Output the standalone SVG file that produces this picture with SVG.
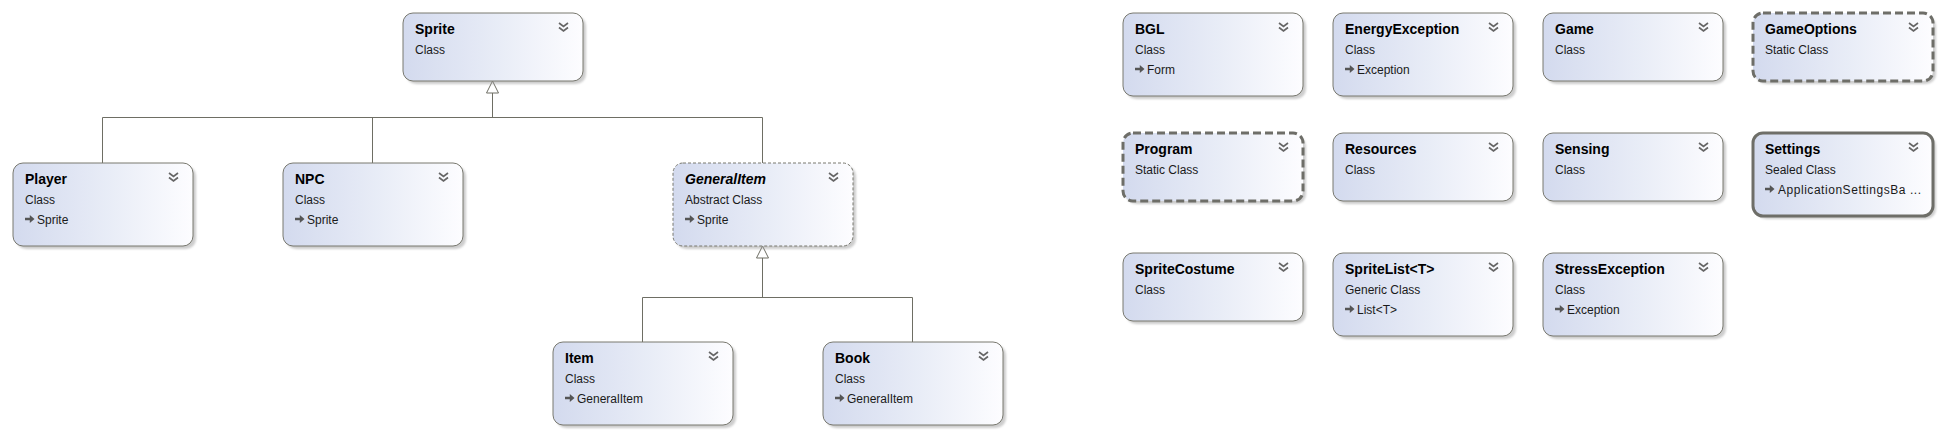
<svg xmlns="http://www.w3.org/2000/svg" xmlns:xlink="http://www.w3.org/1999/xlink" width="1944" height="436" viewBox="0 0 1944 436">
<defs>
<linearGradient id="bg" x1="0" y1="0" x2="1" y2="0">
<stop offset="0" stop-color="#d3daee"/>
<stop offset="0.55" stop-color="#e9edf7"/>
<stop offset="1" stop-color="#fdfdff"/>
</linearGradient>
<filter id="sh" x="-10%" y="-10%" width="120%" height="130%">
<feGaussianBlur stdDeviation="1.2"/>
</filter>
<g id="chev">
<path d="M0,0 L4.5,3.5 L9,0 M0,4.5 L4.5,8 L9,4.5" fill="none" stroke="#666" stroke-width="1.7"/>
</g>
<path id="arr" d="M0,-1.3 H4.8 V-4 L9.5,0 L4.8,4 V1.3 H0 Z" fill="#555"/>
</defs>
<style>
.box{fill:url(#bg);stroke:#78786f;stroke-width:1}
.abs{stroke-dasharray:3 2}
.stat{stroke:#6e6e68;stroke-width:3;stroke-dasharray:8 4}
.seal{stroke:#6e6e68;stroke-width:3}
.shd{fill:#9a9a9a;opacity:0.5;filter:url(#sh)}
.t{font-family:"Liberation Sans",Arial,sans-serif;font-size:14px;font-weight:bold;fill:#000}
.ti{font-style:italic}
.s{font-family:"Liberation Sans",Arial,sans-serif;font-size:12px;fill:#1a1a1a}
.c{fill:none;stroke:#6e6e64;stroke-width:1}
.tri{fill:#fff;stroke:#6e6e64;stroke-width:1}
</style>
<rect width="1944" height="436" fill="#fff"/>

<g id="connectors">
<polygon class="tri" points="492.5,81 486.5,93 498.5,93"/>
<path class="c" d="M492.5,93 V117.5 M102.5,117.5 H762.5 M102.5,117.5 V163 M372.5,117.5 V163 M762.5,117.5 V163"/>
<polygon class="tri" points="762.5,246 756.5,258 768.5,258"/>
<path class="c" d="M762.5,258 V297.5 M642.5,297.5 H912.5 M642.5,297.5 V342 M912.5,297.5 V342"/>
</g>

<g id="Sprite">
<rect class="shd" x="406" y="16" width="180" height="68" rx="10"/>
<rect class="box" x="403" y="13" width="180" height="68" rx="10"/>
<text class="t" x="415" y="34">Sprite</text>
<text class="s" x="415" y="54">Class</text>
<use xlink:href="#chev" x="559" y="23"/>
</g>

<g id="Player">
<rect class="shd" x="16" y="166" width="180" height="83" rx="10"/>
<rect class="box" x="13" y="163" width="180" height="83" rx="10"/>
<text class="t" x="25" y="184">Player</text>
<text class="s" x="25" y="204">Class</text>
<use xlink:href="#arr" x="25" y="219"/>
<text class="s" x="37" y="224">Sprite</text>
<use xlink:href="#chev" x="169" y="173"/>
</g>

<g id="NPC">
<rect class="shd" x="286" y="166" width="180" height="83" rx="10"/>
<rect class="box" x="283" y="163" width="180" height="83" rx="10"/>
<text class="t" x="295" y="184">NPC</text>
<text class="s" x="295" y="204">Class</text>
<use xlink:href="#arr" x="295" y="219"/>
<text class="s" x="307" y="224">Sprite</text>
<use xlink:href="#chev" x="439" y="173"/>
</g>

<g id="GeneralItem">
<rect class="shd" x="676" y="166" width="180" height="83" rx="10"/>
<rect class="box abs" x="673" y="163" width="180" height="83" rx="10"/>
<text class="t ti" x="685" y="184">GeneralItem</text>
<text class="s" x="685" y="204">Abstract Class</text>
<use xlink:href="#arr" x="685" y="219"/>
<text class="s" x="697" y="224">Sprite</text>
<use xlink:href="#chev" x="829" y="173"/>
</g>

<g id="Item">
<rect class="shd" x="556" y="345" width="180" height="83" rx="10"/>
<rect class="box" x="553" y="342" width="180" height="83" rx="10"/>
<text class="t" x="565" y="363">Item</text>
<text class="s" x="565" y="383">Class</text>
<use xlink:href="#arr" x="565" y="398"/>
<text class="s" x="577" y="403">GeneralItem</text>
<use xlink:href="#chev" x="709" y="352"/>
</g>

<g id="Book">
<rect class="shd" x="826" y="345" width="180" height="83" rx="10"/>
<rect class="box" x="823" y="342" width="180" height="83" rx="10"/>
<text class="t" x="835" y="363">Book</text>
<text class="s" x="835" y="383">Class</text>
<use xlink:href="#arr" x="835" y="398"/>
<text class="s" x="847" y="403">GeneralItem</text>
<use xlink:href="#chev" x="979" y="352"/>
</g>

<g id="BGL">
<rect class="shd" x="1126" y="16" width="180" height="83" rx="10"/>
<rect class="box" x="1123" y="13" width="180" height="83" rx="10"/>
<text class="t" x="1135" y="34">BGL</text>
<text class="s" x="1135" y="54">Class</text>
<use xlink:href="#arr" x="1135" y="69"/>
<text class="s" x="1147" y="74">Form</text>
<use xlink:href="#chev" x="1279" y="23"/>
</g>

<g id="EnergyException">
<rect class="shd" x="1336" y="16" width="180" height="83" rx="10"/>
<rect class="box" x="1333" y="13" width="180" height="83" rx="10"/>
<text class="t" x="1345" y="34">EnergyException</text>
<text class="s" x="1345" y="54">Class</text>
<use xlink:href="#arr" x="1345" y="69"/>
<text class="s" x="1357" y="74">Exception</text>
<use xlink:href="#chev" x="1489" y="23"/>
</g>

<g id="Game">
<rect class="shd" x="1546" y="16" width="180" height="68" rx="10"/>
<rect class="box" x="1543" y="13" width="180" height="68" rx="10"/>
<text class="t" x="1555" y="34">Game</text>
<text class="s" x="1555" y="54">Class</text>
<use xlink:href="#chev" x="1699" y="23"/>
</g>

<g id="GameOptions">
<rect class="shd" x="1756" y="16" width="180" height="68" rx="10"/>
<rect class="box stat" x="1753" y="13" width="180" height="68" rx="10"/>
<text class="t" x="1765" y="34">GameOptions</text>
<text class="s" x="1765" y="54">Static Class</text>
<use xlink:href="#chev" x="1909" y="23"/>
</g>

<g id="Program">
<rect class="shd" x="1126" y="136" width="180" height="68" rx="10"/>
<rect class="box stat" x="1123" y="133" width="180" height="68" rx="10"/>
<text class="t" x="1135" y="154">Program</text>
<text class="s" x="1135" y="174">Static Class</text>
<use xlink:href="#chev" x="1279" y="143"/>
</g>

<g id="Resources">
<rect class="shd" x="1336" y="136" width="180" height="68" rx="10"/>
<rect class="box" x="1333" y="133" width="180" height="68" rx="10"/>
<text class="t" x="1345" y="154">Resources</text>
<text class="s" x="1345" y="174">Class</text>
<use xlink:href="#chev" x="1489" y="143"/>
</g>

<g id="Sensing">
<rect class="shd" x="1546" y="136" width="180" height="68" rx="10"/>
<rect class="box" x="1543" y="133" width="180" height="68" rx="10"/>
<text class="t" x="1555" y="154">Sensing</text>
<text class="s" x="1555" y="174">Class</text>
<use xlink:href="#chev" x="1699" y="143"/>
</g>

<g id="Settings">
<rect class="shd" x="1756" y="136" width="180" height="83" rx="10"/>
<rect class="box seal" x="1753" y="133" width="180" height="83" rx="10"/>
<text class="t" x="1765" y="154">Settings</text>
<text class="s" x="1765" y="174">Sealed Class</text>
<use xlink:href="#arr" x="1765" y="189"/>
<text class="s" x="1778" y="194" textLength="143" lengthAdjust="spacing">ApplicationSettingsBa ...</text>
<use xlink:href="#chev" x="1909" y="143"/>
</g>

<g id="SpriteCostume">
<rect class="shd" x="1126" y="256" width="180" height="68" rx="10"/>
<rect class="box" x="1123" y="253" width="180" height="68" rx="10"/>
<text class="t" x="1135" y="274">SpriteCostume</text>
<text class="s" x="1135" y="294">Class</text>
<use xlink:href="#chev" x="1279" y="263"/>
</g>

<g id="SpriteList">
<rect class="shd" x="1336" y="256" width="180" height="83" rx="10"/>
<rect class="box" x="1333" y="253" width="180" height="83" rx="10"/>
<text class="t" x="1345" y="274">SpriteList&lt;T&gt;</text>
<text class="s" x="1345" y="294">Generic Class</text>
<use xlink:href="#arr" x="1345" y="309"/>
<text class="s" x="1357" y="314">List&lt;T&gt;</text>
<use xlink:href="#chev" x="1489" y="263"/>
</g>

<g id="StressException">
<rect class="shd" x="1546" y="256" width="180" height="83" rx="10"/>
<rect class="box" x="1543" y="253" width="180" height="83" rx="10"/>
<text class="t" x="1555" y="274">StressException</text>
<text class="s" x="1555" y="294">Class</text>
<use xlink:href="#arr" x="1555" y="309"/>
<text class="s" x="1567" y="314">Exception</text>
<use xlink:href="#chev" x="1699" y="263"/>
</g>
</svg>
